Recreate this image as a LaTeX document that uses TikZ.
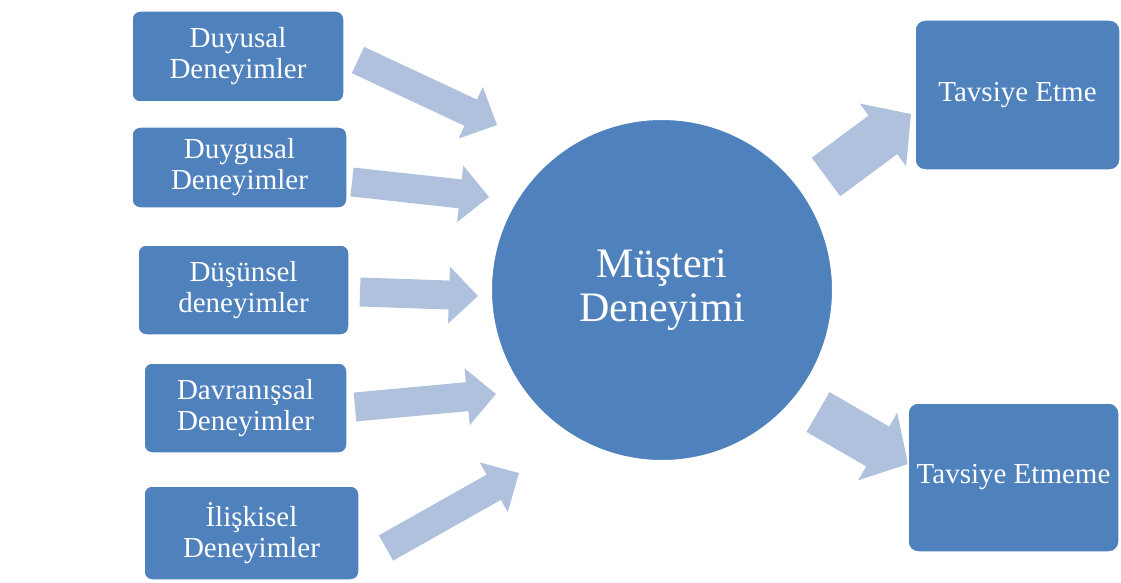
\documentclass[tikz,border=0pt]{standalone}
\usepackage{fontspec}
\setmainfont{Liberation Serif}
\usetikzlibrary{calc,positioning}

\definecolor{boxblue}{RGB}{79,129,189}
\definecolor{arrowblue}{RGB}{176,193,222}

\tikzset{
  expbox/.style={draw=white, line width=1.5pt, fill=boxblue, rounded corners=8pt,
    text=white, align=center, inner sep=0pt, font=\fontsize{29}{31}\selectfont},
  resultbox/.style={expbox, rounded corners=10pt},
}

% block arrow: tail, tip, half shaft width, half head width, head length
\newcommand{\fatarrow}[5]{%
  \coordinate (neck) at ($(#2)!#5!(#1)$);
  \fill[arrowblue] ($(#1)!#3!90:(#2)$) -- ($(neck)!#3!90:(#2)$) -- ($(neck)!#4!90:(#2)$)
    -- (#2) -- ($(neck)!#4!-90:(#2)$) -- ($(neck)!#3!-90:(#2)$) -- ($(#1)!#3!-90:(#2)$) -- cycle;
}

\begin{document}
\begin{tikzpicture}[x=1pt, y=-1pt]
    \useasboundingbox (0,0) rectangle (1121,583);

    % arrow ends
    \coordinate (t1) at (358,60);   \coordinate (h1) at (497,125);
    \coordinate (t2) at (352,182);  \coordinate (h2) at (489,197);
    \coordinate (t3) at (360,292);  \coordinate (h3) at (478,296);
    \coordinate (t4) at (355,407);  \coordinate (h4) at (496,394);
    \coordinate (t5) at (386,548);  \coordinate (h5) at (519,473);
    \coordinate (t6) at (826,177);  \coordinate (h6) at (911,114);
    \coordinate (t7) at (818,412);  \coordinate (h7) at (908,464);

    \foreach \i in {1,...,5} {\fatarrow{t\i}{h\i}{14.5pt}{28.5pt}{29pt}}
    \fatarrow{t6}{h6}{24pt}{39pt}{35pt}
    \fatarrow{t7}{h7}{23pt}{39pt}{35pt}

    % input experiences
    \node[expbox, minimum width=212pt, minimum height=91pt] (duyusal) at (238,56.5) {Duyusal\\Deneyimler};
    \node[expbox, minimum width=215pt, minimum height=81pt] (duygusal) at (239.5,167.5) {Duygusal\\Deneyimler};
    \node[expbox, minimum width=211pt, minimum height=90pt] (dusunsel) at (243.5,290) {Düşünsel\\deneyimler};
    \node[expbox, minimum width=203pt, minimum height=90pt] (davranis) at (245.5,408) {Davranışsal\\Deneyimler};
    \node[expbox, minimum width=215pt, minimum height=94pt] (iliskisel) at (251.5,533) {İlişkisel\\Deneyimler};

    % centre
    \node[circle, draw=white, line width=2pt, fill=boxblue, minimum size=342pt, inner sep=0pt,
      text=white, align=center, font=\fontsize{42}{44.5}\selectfont] (musteri) at (662,290) {Müşteri\\Deneyimi};

    % outcomes
    \node[resultbox, minimum width=205pt, minimum height=150pt] (etme) at (1017.5,95) {Tavsiye Etme};
    \node[resultbox, minimum width=211pt, minimum height=149pt] (etmeme) at (1013.5,477.5) {Tavsiye Etmeme};
\end{tikzpicture}
\end{document}
